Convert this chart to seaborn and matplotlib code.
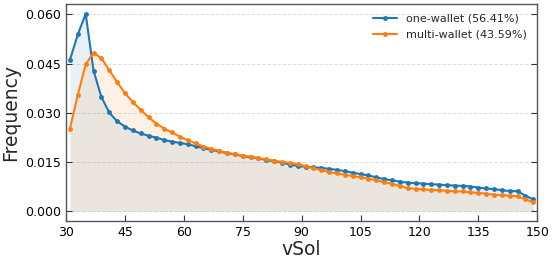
import numpy as np
import pandas as pd
import matplotlib
matplotlib.use("Agg")
import matplotlib.pyplot as plt
import seaborn as sns

vsol = list(range(31, 150, 2))
one_wallet = [0.0462, 0.0539, 0.0602, 0.0429, 0.0348, 0.0301, 0.0274, 0.0258, 0.0246, 0.0237,
              0.0230, 0.0224, 0.0217, 0.0212, 0.0208, 0.0204, 0.0198, 0.0192, 0.0187, 0.0182,
              0.0177, 0.0173, 0.0168, 0.0164, 0.0161, 0.0156, 0.0152, 0.0148, 0.0142, 0.0138,
              0.0135, 0.0134, 0.0132, 0.0129, 0.0126, 0.0122, 0.0117, 0.0113, 0.0109, 0.0103,
              0.0098, 0.0094, 0.0090, 0.0087, 0.0085, 0.0084, 0.0082, 0.0081, 0.0079, 0.0078,
              0.0077, 0.0075, 0.0072, 0.0069, 0.0067, 0.0064, 0.0061, 0.0061, 0.0047, 0.0036]
multi_wallet = [0.0252, 0.0355, 0.0448, 0.0483, 0.0467, 0.0430, 0.0394, 0.0360, 0.0333, 0.0309,
                0.0287, 0.0267, 0.0252, 0.0240, 0.0227, 0.0216, 0.0207, 0.0197, 0.0190, 0.0184,
                0.0178, 0.0174, 0.0169, 0.0166, 0.0162, 0.0158, 0.0154, 0.0150, 0.0147, 0.0143,
                0.0137, 0.0131, 0.0125, 0.0119, 0.0115, 0.0111, 0.0107, 0.0103, 0.0099, 0.0094,
                0.0089, 0.0083, 0.0077, 0.0070, 0.0068, 0.0066, 0.0065, 0.0064, 0.0062, 0.0060,
                0.0060, 0.0057, 0.0056, 0.0053, 0.0050, 0.0049, 0.0047, 0.0045, 0.0036, 0.0027]
labels = ["one-wallet (56.41%)", "multi-wallet (43.59%)"]
xticks = [30, 45, 60, 75, 90, 105, 120, 135, 150]
yticks = [0.000, 0.015, 0.030, 0.045, 0.060]

sns.set_theme(style="white")
plt.rcParams['font.family'] = ['DejaVu Sans']

df = pd.DataFrame({
    "vSol": vsol * 2,
    "Frequency": one_wallet + multi_wallet,
    "group": [labels[0]] * len(vsol) + [labels[1]] * len(vsol),
})
colors = ["#1f77b4", "#ff7f0e"]

fig = plt.figure(figsize=(5.55, 2.64), dpi=100)
ax = fig.add_axes([0.119, 0.163, 0.849, 0.822])

sns.lineplot(data=df, x="vSol", y="Frequency", hue="group", palette=colors,
             marker="o", markersize=3.5, markeredgewidth=0, linewidth=1.5, ax=ax)
ax.fill_between(vsol, one_wallet, 0, color=colors[0], alpha=0.1, linewidth=0)
ax.fill_between(vsol, multi_wallet, 0, color=colors[1], alpha=0.1, linewidth=0)

ax.set_xlim(30, 150)
ax.set_xticks(xticks)
ax.set_yticks(yticks)
ax.set_yticklabels([f"{v:.3f}" for v in yticks])
ax.tick_params(axis="both", direction="in", labelsize=9, length=4, width=0.8,
               colors="#333333", labelcolor="black", right=True, left=True, bottom=True)
ax.yaxis.grid(True, linestyle="--", color="#dddddd", linewidth=0.7)
ax.xaxis.grid(False)
for s in ax.spines.values():
    s.set_color("#555555")
    s.set_linewidth(1.0)
ax.set_xlabel("vSol", fontsize=13.5, labelpad=1)
ax.set_ylabel("Frequency", fontsize=13.5, labelpad=4)
leg = ax.legend(loc="upper right", frameon=False, fontsize=8, handlelength=2.2)

fig.savefig("out.png", dpi=100)
